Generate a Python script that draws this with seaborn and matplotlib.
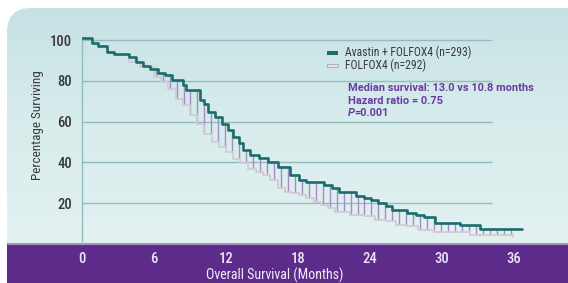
import numpy as np
import pandas as pd
import matplotlib
matplotlib.use("Agg")
import matplotlib.pyplot as plt
import seaborn as sns
from matplotlib.patches import FancyBboxPatch, Rectangle

# ==========================
# Data
# ==========================

avastin_months = [0, 0.85, 1.3, 2.05, 2.66, 3.9, 4.5, 5.1, 5.7, 6.3, 6.9, 7.5,
                  8.4, 8.7, 9.8, 10.2, 10.5, 11.1, 11.7, 12.2, 12.6, 13.1, 13.4,
                  14.0, 14.75, 15.5, 16.3, 17.3, 18.1, 18.7, 20.2, 20.8, 21.4,
                  22.8, 23.5, 24.1, 24.7, 25.3, 25.8, 27.1, 27.8, 28.5, 29.4,
                  31.5, 33.2, 36.7]
avastin_pct = [101, 98.4, 97, 94, 93, 91.5, 89.4, 87.5, 86, 84, 82.6, 80.2,
               77.7, 75.4, 70.4, 68.8, 64.7, 62.3, 59, 55.8, 52.5, 49.3, 46,
               43.6, 42, 40.3, 37.9, 33.8, 31.4, 30.6, 29, 27.3, 25.7,
               23.3, 22.4, 21.6, 20, 18.4, 16.8, 15.1, 14.3, 13.2, 10.2,
               9.1, 7.3, 7.3]

folfox_months = [0, 0.85, 1.3, 2.05, 2.66, 3.9, 4.8, 6.0, 6.6, 7.2, 7.8, 8.4,
                 9.0, 9.6, 10.2, 10.8, 11.4, 12.0, 12.6, 13.2, 13.8, 14.5,
                 15.1, 15.7, 16.3, 16.9, 17.5, 18.1, 18.7, 19.3, 19.9, 20.5,
                 21.1, 22.3, 23.5, 24.4, 25.3, 26.2, 27.1, 28.0, 29.3, 32.3,
                 35.9]
folfox_pct = [101, 98.4, 97, 94, 92.5, 89, 86.7, 81.8, 79.3, 76, 71.2, 68,
              63, 59, 54.1, 50, 47.6, 45.2, 41.9, 39.5, 37, 35.4,
              33.8, 31.4, 27.3, 25.7, 25.2, 24.1, 22.4, 20.8, 19.2, 17.6,
              15.9, 14.3, 13.5, 11.9, 11.1, 9.4, 8.6, 7.0, 5.9, 4.6,
              3.4]

x_ticks = [0, 6, 12, 18, 24, 30, 36]
y_ticks = [20, 40, 60, 80, 100]

legend_labels = ["Avastin + FOLFOX4 (n=293)", "FOLFOX4 (n=292)"]
stats_lines = ["Median survival: 13.0 vs 10.8 months", "Hazard ratio = 0.75"]

# ==========================
# Style
# ==========================

sns.set_style("white")
plt.rcParams["font.family"] = ["Roboto Condensed", "Liberation Sans Narrow",
                               "Roboto", "DejaVu Sans"]
STATS_FONT = ["Roboto", "DejaVu Sans"]

TEAL = "#1b6d6b"
HATCH = "#a68cc6"
GREY = "#d2cbd4"
PURPLE_BAND = "#5d2c8b"
PURPLE_TEXT = "#6a3c9f"
GRID = "#93bcc0"
DARK = "#3a3a3a"

W, H = 568, 283
fig = plt.figure(figsize=(W / 100, H / 100), dpi=100)

# background panel in pixel coordinates
bg = fig.add_axes([0, 0, 1, 1], zorder=0)
bg.set_xlim(0, W)
bg.set_ylim(H, 0)
bg.axis("off")

panel = FancyBboxPatch((7, 8), W + 30, H + 30,
                       boxstyle="round,pad=0,rounding_size=24",
                       facecolor="none", edgecolor="none")
bg.add_patch(panel)
grad = np.linspace(0, 1, 256).reshape(-1, 1)
cmap = matplotlib.colors.LinearSegmentedColormap.from_list(
    "panel", ["#c6e2e5", "#d8ecec", "#e3f1f1"])
img = bg.imshow(grad, cmap=cmap, extent=[7, W, 243, 8], aspect="auto")
img.set_clip_path(panel)

bg.add_patch(Rectangle((7, 243), W, 45, facecolor=PURPLE_BAND, edgecolor="none"))
bg.plot([7, W], [243.5, 243.5], color="#b7a3d4", lw=1.2)

# ==========================
# Main axes
# ==========================

px_per_pct = 2.04
bottom_px = 244
ymax = 104
ax = fig.add_axes([82 / W, (H - bottom_px) / H, (W - 82) / W,
                   ymax * px_per_pct / H], zorder=1)
ax.set_facecolor("none")
ax.set_xlim(0, (W - 82) / 12)
ax.set_ylim(0, ymax)

ax.hlines(y_ticks, 0, 34.2, color=GRID, lw=1.0, zorder=1)
for side in ["top", "right", "bottom"]:
    ax.spines[side].set_visible(False)
ax.spines["left"].set_bounds(0, 100)
ax.spines["left"].set_color(GRID)
ax.spines["left"].set_linewidth(1.0)

# hatch lines between the two curves
a_x = np.array(avastin_months)
a_y = np.array(avastin_pct)
f_x = np.array(folfox_months)
f_y = np.array(folfox_pct)
hx = np.arange(4.4, 35.9, 0.58)
top = a_y[np.searchsorted(a_x, hx, side="right") - 1]
low = f_y[np.searchsorted(f_x, hx, side="right") - 1]
ax.vlines(hx, low, top, color=HATCH, lw=1.0, zorder=2)

folfox_df = pd.DataFrame({"month": folfox_months, "pct": folfox_pct})
avastin_df = pd.DataFrame({"month": avastin_months, "pct": avastin_pct})

sns.lineplot(data=folfox_df, x="month", y="pct", ax=ax, color=GREY,
             lw=1.3, drawstyle="steps-post", estimator=None, zorder=3)
sns.lineplot(data=avastin_df, x="month", y="pct", ax=ax, color=TEAL,
             lw=1.9, drawstyle="steps-post", estimator=None, zorder=4)

ax.set_xticks(x_ticks)
ax.set_xticklabels([str(t) for t in x_ticks], color="#ece4f4", fontsize=10.5,
                   fontweight="medium")
ax.set_yticks(y_ticks)
ax.set_yticklabels([str(t) for t in y_ticks], color=DARK, fontsize=10.5,
                   fontweight="medium")
ax.tick_params(axis="both", length=0)
ax.tick_params(axis="x", pad=6)
ax.tick_params(axis="y", pad=7)

ax.set_xlabel("Overall Survival (Months)", color="#f2eef7", fontsize=10)
ax.set_ylabel("Percentage Surviving", color=DARK, fontsize=9.5)
axh = ymax * px_per_pct
ax.xaxis.set_label_coords((275 - 82) / (W - 82), -(268 - bottom_px) / axh)
ax.yaxis.set_label_coords(-(82 - 44) / (W - 82), (bottom_px - 125) / axh)

# legend and stats (pixel coordinates)
bg.add_patch(Rectangle((327, 51), 11, 3.5, facecolor=TEAL, edgecolor="none", zorder=3))
bg.add_patch(Rectangle((327, 63.5), 11, 3.5, facecolor="#e4e4e4",
                       edgecolor="#a9a9a9", lw=0.6, zorder=3))
bg.text(345, 52.5, legend_labels[0], fontsize=8.4, color=DARK, va="center", zorder=3)
bg.text(345, 65, legend_labels[1], fontsize=8.4, color=DARK, va="center", zorder=3)

stat_kw = dict(fontsize=7.9, color=PURPLE_TEXT, family=STATS_FONT,
               fontweight="bold", va="center", zorder=3)
bg.text(348, 88, stats_lines[0], **stat_kw)
bg.text(348, 100.5, stats_lines[1], **stat_kw)
bg.text(348, 113, "P", fontstyle="italic", **stat_kw)
bg.text(354.5, 113, "=0.001", **stat_kw)

fig.savefig("out.png", dpi=100)
